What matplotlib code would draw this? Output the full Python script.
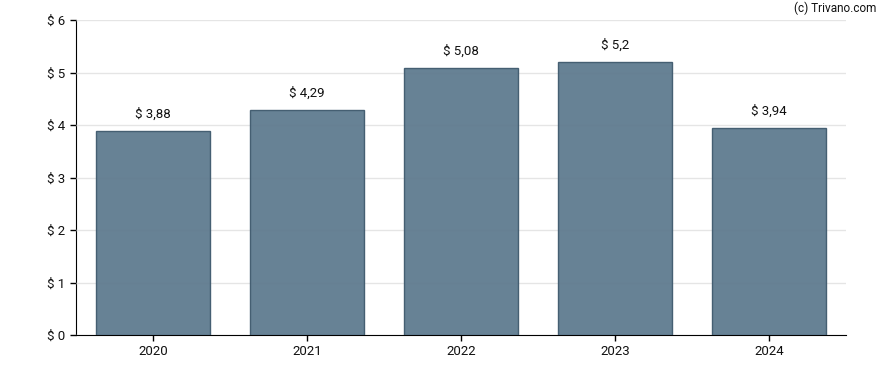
import matplotlib
matplotlib.use("Agg")
import matplotlib.pyplot as plt

plt.rcParams['font.family'] = ['Roboto', 'DejaVu Sans']

# data
years = ['2020', '2021', '2022', '2023', '2024']
values = [3.88, 4.29, 5.08, 5.2, 3.94]
labels = ['$ 3,88', '$ 4,29', '$ 5,08', '$ 5,2', '$ 3,94']
yticks = [0, 1, 2, 3, 4, 5, 6]

fig = plt.figure(figsize=(8.88, 3.70), dpi=100)
ax = fig.add_axes([76/888, 35/370, 770/888, 315/370])

x = range(len(years))
ax.bar(x, values, width=0.74, color='#5f7b8f', alpha=0.95,
       edgecolor='#3f5a6e', linewidth=1, zorder=3)
for xi, v, lab in zip(x, values, labels):
    ax.annotate(lab, (xi, v), xytext=(0, 7.5), textcoords='offset points',
                ha='center', va='bottom', fontsize=9.5, color='#111111')

ax.set_xlim(-0.5, len(years) - 0.5)
ax.set_ylim(0, 6)
ax.set_xticks(list(x))
ax.set_xticklabels(years, fontsize=9.5)
ax.set_yticks(yticks)
ax.set_yticklabels(['$ %d' % t for t in yticks], fontsize=9.5)
# grid lines faintly visible through the bars
ax.set_axisbelow(False)
ax.grid(axis='y', color='#e3e3e3', alpha=0.9, linewidth=1, zorder=4)
for s in ['top', 'right']:
    ax.spines[s].set_visible(False)
ax.spines['left'].set_color('black')
ax.spines['bottom'].set_color('black')
ax.tick_params(axis='both', length=4, width=1, colors='black', labelcolor='#111111')

fig.text(876/888, 1 - 8/370, '(c) Trivano.com', ha='right', va='center', fontsize=8.5, color='#111111')

fig.savefig('out.png', dpi=100)
